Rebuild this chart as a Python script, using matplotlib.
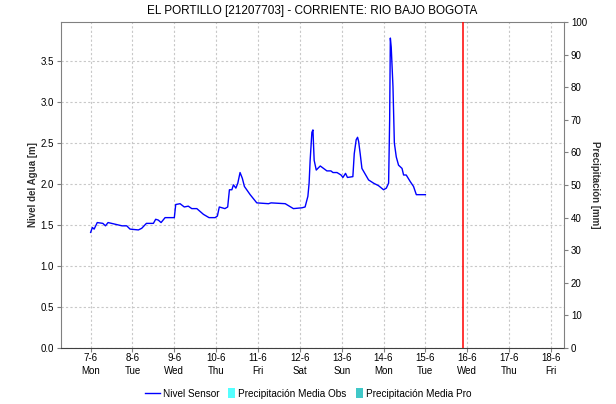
import numpy as np
import pandas as pd
import matplotlib
matplotlib.use("Agg")
import matplotlib.pyplot as plt
from matplotlib.lines import Line2D
from matplotlib.patches import Patch, Rectangle
from matplotlib.legend_handler import HandlerPatch

plt.rcParams['font.family'] = ['Liberation Sans', 'DejaVu Sans']

title = "EL PORTILLO [21207703] - CORRIENTE: RIO BAJO BOGOTA"
start = pd.Timestamp("2021-06-07 00:00")

# nivel sensor: hours since 7-6 00:00 and level [m]
horas = [0, 1, 2, 3.8, 7, 8.5, 10, 14, 18, 20.7, 22.6, 27.4, 29.3, 32, 36,
         37.3, 38.8, 40.4, 42.7, 48, 48.8, 51.3, 53.7, 56, 58, 60.9, 64.7,
         67.9, 71.4, 72.7, 73.8, 77, 78.6, 79.6, 81.0, 81.9, 83.3, 84.4, 85.7,
         87.0, 88.2, 91.5, 95.3, 102.0, 103.5, 111.6, 116.3, 121.2, 123.0,
         124.6, 125.3, 125.9, 126.9, 127.5, 128.2, 129.4, 130.3, 131.7, 133.6,
         135.5, 137.8, 139.0, 141.3, 143.6, 144.7, 146.2, 147.3, 150.4, 151.2,
         152.3, 153.1, 153.7, 154.6, 155.6, 159.4, 162.3, 165.1, 168.0, 169.6,
         170.9, 171.5, 171.9, 172.4, 173.4, 174.2, 175.3, 176.6, 178.6, 179.5,
         181.0, 183.3, 185.2, 186.8, 192]
nivel = [1.41, 1.47, 1.45, 1.53, 1.52, 1.49, 1.53, 1.51, 1.49, 1.49, 1.45,
         1.44, 1.46, 1.52, 1.52, 1.57, 1.56, 1.53, 1.59, 1.59, 1.75, 1.76,
         1.72, 1.73, 1.70, 1.70, 1.63, 1.59, 1.59, 1.61, 1.72, 1.70, 1.72,
         1.93, 1.93, 1.99, 1.95, 2.01, 2.14, 2.07, 1.97, 1.87, 1.77, 1.76,
         1.77, 1.76, 1.70, 1.71, 1.72, 1.85, 2.01, 2.29, 2.63, 2.66, 2.29,
         2.17, 2.19, 2.22, 2.19, 2.16, 2.16, 2.14, 2.14, 2.11, 2.08, 2.13,
         2.08, 2.09, 2.37, 2.54, 2.57, 2.52, 2.37, 2.19, 2.05, 2.01, 1.98,
         1.93, 1.95, 2.01, 2.78, 3.78, 3.67, 3.19, 2.50, 2.33, 2.23, 2.19,
         2.11, 2.11, 2.03, 1.97, 1.87, 1.87]

dias = ["7-6", "8-6", "9-6", "10-6", "11-6", "12-6", "13-6", "14-6", "15-6",
        "16-6", "17-6", "18-6"]
semana = ["Mon", "Tue", "Wed", "Thu", "Fri", "Sat", "Sun", "Mon", "Tue",
          "Wed", "Thu", "Fri"]
ahora = pd.Timestamp("2021-06-15 21:20")

t = [start + pd.Timedelta(hours=h) for h in horas]
ticks = [start + pd.Timedelta(days=i) for i in range(len(dias))]

fig = plt.figure(figsize=(6.16, 4.04), dpi=100)
ax = fig.add_axes([61 / 616, 56 / 404, 503 / 616, 326 / 404])
ax.plot(t, nivel, color="#0000ff", lw=1.0, zorder=3)
ax.axvline(ahora, color="#ff0000", lw=1.1, zorder=4)

ax.set_xlim(start - pd.Timedelta(hours=17), start + pd.Timedelta(hours=271.5))
ax.set_ylim(0, 3.976)
ax.set_xticks(ticks)
ax.set_xticklabels([f"{d}\n{s}" for d, s in zip(dias, semana)], fontsize=7,
                   linespacing=1.35)
ax.set_yticks(np.arange(0, 3.6, 0.5))
ax.set_yticklabels([f"{v:.1f}" for v in np.arange(0, 3.6, 0.5)], fontsize=7)
ax.grid(True, color="#c8c8c8", ls=(0, (2, 2)), lw=0.8)
ax.set_ylabel("Nivel del Agua [m]", fontsize=7, fontweight="bold",
              color="#303030", labelpad=2)
ax.set_title(title, fontsize=8.5, pad=6)

for s in ["left", "top", "right"]:
    ax.spines[s].set_color("#808080")
ax.spines["bottom"].set_color("#404040")
ax.spines["bottom"].set_linestyle((0, (1, 1)))
ax.tick_params(axis="both", colors="#808080", labelcolor="black", length=3, pad=2)
ax.tick_params(axis="x", pad=0.5)

ax2 = ax.twinx()
ax2.set_ylim(0, 100)
ax2.set_yticks(np.arange(0, 101, 10))
ax2.tick_params(axis="y", colors="#808080", labelcolor="black", length=3,
                labelsize=7, pad=2)
ax2.set_ylabel("Precipitación [mm]", fontsize=7, fontweight="bold",
               color="#303030", rotation=-90, labelpad=9)
for s in ax2.spines.values():
    s.set_visible(False)


def caja(legend, orig_handle, xdescent, ydescent, width, height, fontsize):
    w, h = 5.0, 7.2
    return Rectangle((-xdescent + width - w, -ydescent + (height - h) / 2), w, h)


handles = [Line2D([], [], color="#0000ff", lw=1.0),
           Patch(facecolor="#55ffff"), Patch(facecolor="#40c8c8")]
labels = ["Nivel Sensor", "Precipitación Media Obs", "Precipitación Media Pro"]
fig.legend(handles, labels, loc="center", bbox_to_anchor=(0.5, 0.025), ncol=3,
           frameon=False, fontsize=7.2, handlelength=1.5, handleheight=0.9,
           handletextpad=0.3, columnspacing=0.1,
           handler_map={Patch: HandlerPatch(patch_func=caja)})

fig.savefig("out.png", dpi=100)
